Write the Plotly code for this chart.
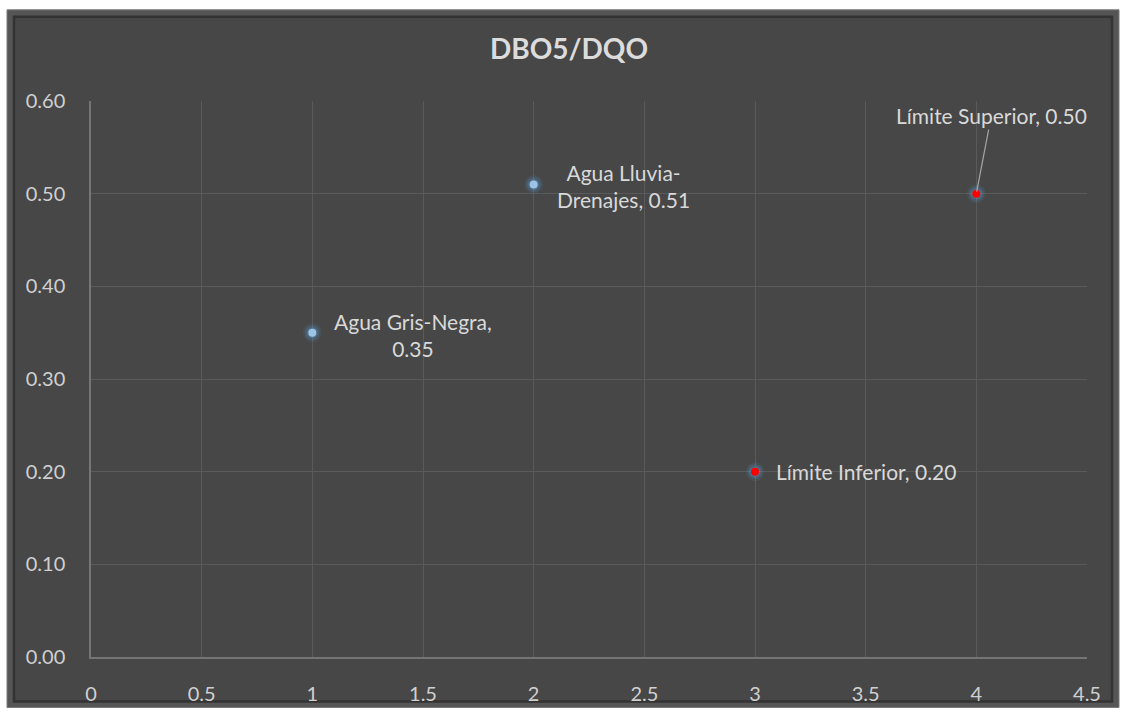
import plotly.graph_objects as go

# DBO5/DQO ratio per water type and reference limits
sample_x = [1, 2]
sample_y = [0.35, 0.51]
sample_names = ["Agua Gris-Negra,<br>", "Agua Lluvia-<br>Drenajes, "]

limit_x = [3, 4]
limit_y = [0.20, 0.50]
limit_names = ["Límite Inferior, ", "Límite Superior, "]

x_ticks = [0, 0.5, 1, 1.5, 2, 2.5, 3, 3.5, 4, 4.5]
y_ticks = [0.0, 0.1, 0.2, 0.3, 0.4, 0.5, 0.6]

W, H = 1122, 717
L, R, T, B = 91, 35, 101, 55
PW, PH = W - L - R, H - T - B

FONT = "Lato"
TXT = "#d9d9d9"


def px_x(p):
    return (p - L) / PW


def px_y(p):
    return (H - B - p) / PH


fig = go.Figure()

# soft blue glow under each marker
for xs, ys in ((sample_x, sample_y), (limit_x, limit_y)):
    for size, alpha in ((19, 0.10), (15, 0.18), (11, 0.30)):
        fig.add_trace(go.Scatter(x=xs, y=ys, mode="markers", hoverinfo="skip",
                                 marker=dict(size=size, color=f"rgba(91,155,213,{alpha})",
                                             line=dict(width=0))))

fig.add_trace(go.Scatter(x=sample_x, y=sample_y, mode="markers", name="Muestras",
                         marker=dict(size=8, color="#9dc3e6", line=dict(width=0))))
fig.add_trace(go.Scatter(x=limit_x, y=limit_y, mode="markers", name="Límites",
                         marker=dict(size=8, color="#ff0000", line=dict(width=0))))

# data labels
label_font = dict(family=FONT, size=21, color=TXT)
sample_offsets = [(101, -2), (90, -2)]
for x, y, name, (dx, dy) in zip(sample_x, sample_y, sample_names, sample_offsets):
    fig.add_annotation(x=x, y=y, text=f"{name}{y:.2f}", showarrow=False,
                       xshift=dx, yshift=dy, xanchor="center", yanchor="middle",
                       align="center", font=label_font)

# lower limit: label to the right of the point
fig.add_annotation(x=limit_x[0], y=limit_y[0], text=f"{limit_names[0]}{limit_y[0]:.2f}",
                   showarrow=False, xshift=19, xanchor="left", yanchor="middle",
                   font=label_font)
# upper limit: label above with a leader line
fig.add_annotation(x=limit_x[1], y=limit_y[1], text=f"{limit_names[1]}{limit_y[1]:.2f}",
                   showarrow=True, arrowhead=0, arrowwidth=1.2, arrowcolor="#a6a6a6",
                   ax=15, ay=-78, standoff=2, font=label_font)

# bevelled chart frame
fig.add_shape(type="rect", xref="paper", yref="paper", layer="below",
              x0=px_x(7), x1=px_x(1119), y0=px_y(713), y1=px_y(9),
              fillcolor="#555555", line=dict(color="#7a7a7a", width=1))
fig.add_shape(type="rect", xref="paper", yref="paper", layer="below",
              x0=px_x(14), x1=px_x(1112), y0=px_y(707), y1=px_y(16),
              fillcolor="#474747", line=dict(color="#333333", width=2.5))

fig.update_layout(
    width=W, height=H,
    margin=dict(l=L, r=R, t=T, b=B),
    paper_bgcolor="#ffffff",
    plot_bgcolor="rgba(0,0,0,0)",
    showlegend=False,
    font=dict(family=FONT, size=20, color=TXT),
    title=dict(text="<b>DBO5/DQO</b>", x=569 / W, xref="container", xanchor="center",
               y=1 - 49 / H, yref="container", yanchor="middle",
               font=dict(family=FONT, size=28, color="#dcdcdc")),
)
fig.update_xaxes(range=[0, 4.5], tickvals=x_ticks, ticktext=[f"{v:g}" for v in x_ticks],
                 showgrid=True, gridcolor="#5a5a5a", gridwidth=1,
                 showline=True, linecolor="#757575", linewidth=1.5,
                 zeroline=False, ticks="", ticklabelstandoff=18,
                 tickfont=dict(family=FONT, size=20, color="#d0d0d0"))
fig.update_yaxes(range=[0, 0.6], tickvals=y_ticks, ticktext=[f"{v:.2f}" for v in y_ticks],
                 showgrid=True, gridcolor="#5a5a5a", gridwidth=1,
                 showline=True, linecolor="#757575", linewidth=1.5,
                 zeroline=False, ticks="", ticklabelstandoff=20,
                 tickfont=dict(family=FONT, size=20, color="#d0d0d0"))

fig.write_html("out.html")
